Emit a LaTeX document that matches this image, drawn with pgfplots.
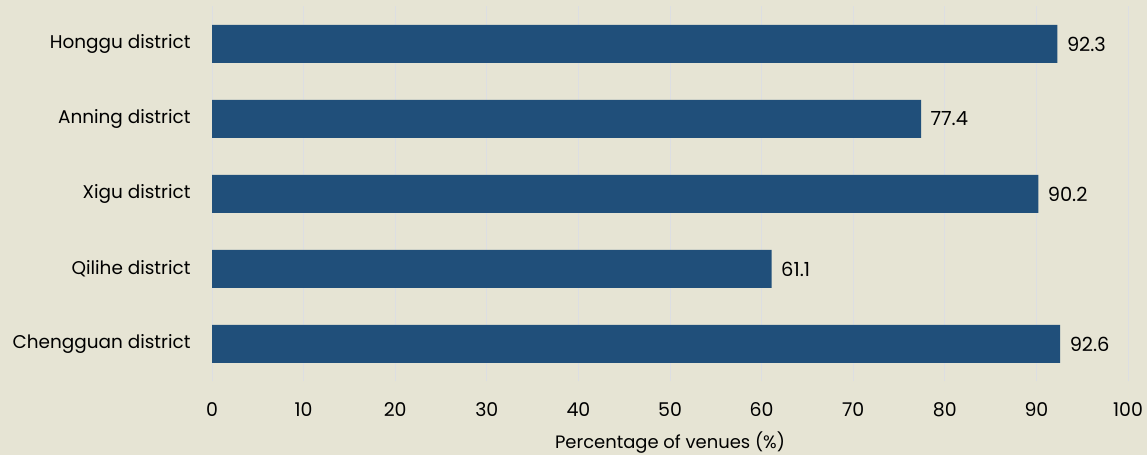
\documentclass[border=0pt]{standalone}
\usepackage{fontspec}
\setmainfont{Poppins}
\usepackage{pgfplots}
\pgfplotsset{compat=1.18}
\definecolor{bg}{RGB}{230,228,212}
\definecolor{barc}{RGB}{32,79,122}
\definecolor{gridc}{RGB}{220,222,226}
\begin{document}
\begin{tikzpicture}[x=1bp,y=1bp]
\fill[bg] (0,0) rectangle (1147,455);
\begin{axis}[
  at={(212bp,73.5bp)}, anchor=south west,
  scale only axis, width=916bp, height=375bp,
  xbar, bar width=38bp,
  xmin=0, xmax=100, ymin=-0.5, ymax=4.5,
  xtick={0,10,...,100}, ytick={0,...,4},
  yticklabels={Chengguan district, Qilihe district, Xigu district, Anning district, Honggu district},
  xmajorgrids, major grid style={gridc, line width=1bp},
  axis line style={draw=none}, major tick length=0pt,
  tick label style={font=\fontsize{19}{22}\selectfont, text=black},
  yticklabel style={font=\fontsize{18.5}{22}\selectfont, xshift=-18bp},
  /pgf/number format/assume math mode=true,
  xticklabel style={yshift=-18bp},
  xlabel={Percentage of venues (\%)},
  xlabel style={yshift=-8bp},
  label style={font=\fontsize{18}{21}\selectfont},
  point meta=x,
  nodes near coords,
  nodes near coords style={anchor=west, xshift=6bp, font=\fontsize{19.5}{22}\selectfont, text=black, /pgf/number format/.cd, fixed, precision=1, fixed zerofill, assume math mode=true},
]
\addplot[fill=barc, draw=none] coordinates {(92.6,0) (61.1,1) (90.2,2) (77.4,3) (92.3,4)};
\end{axis}
\end{tikzpicture}
\end{document}
